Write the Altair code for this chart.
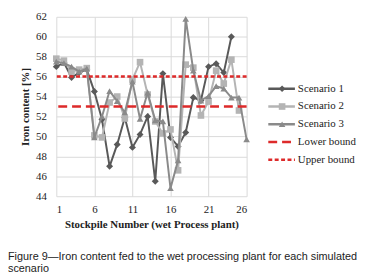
import altair as alt
import pandas as pd

# ---- data ----
stockpiles = list(range(1, 27))
scenario1 = [57.0, 57.4, 55.9, 56.4, 56.7, 54.5, 51.7, 47.0, 49.2, 51.9, 48.9, 50.2,
             52.0, 45.5, 56.3, 49.9, 49.0, 50.4, 53.9, 53.6, 57.0, 57.3, 56.4, 60.0]
scenario2 = [57.8, 57.6, 56.5, 56.7, 56.85, 50.1, 49.9, 53.4, 54.0, 51.8, 55.7, 57.45,
             54.2, 51.5, 50.3, 50.7, 46.6, 57.2, 56.9, 52.1, 53.5, 56.6, 55.3, 57.7, 52.6]
scenario3 = [57.5, 57.35, 57.0, 56.5, 56.8, 49.9, 52.0, 54.55, 53.55, 52.4, 55.5, 51.75,
             54.4, 51.6, 51.5, 44.8, 47.6, 61.8, 56.6, 53.6, 54.05, 55.05, 54.8, 53.9, 53.9, 49.7]
lower_bound = 53
upper_bound = 56
x_ticks = [1, 6, 11, 16, 21, 26]
y_ticks = [44, 46, 48, 50, 52, 54, 56, 58, 60, 62]
legend_names = ["Scenario 1", "Scenario 2", "Scenario 3", "Lower bound", "Upper bound"]
caption = ["Figure 9\u2014Iron content fed to the wet processing plant for each simulated",
           "scenario"]

# ---- styles ----
c1, c2, c3 = "#595959", "#b4b4b4", "#8a8a8a"
red = "#dd2a2a"
serif = "'Liberation Serif', 'Times New Roman', serif"
sans = "'Liberation Sans', Arial, sans-serif"
grid_col = "#d9d9d9"

x_scale = alt.Scale(domain=[1, 26], nice=False, zero=False)
y_scale = alt.Scale(domain=[44, 62], nice=False, zero=False)

x_axis = alt.Axis(values=x_ticks, title="Stockpile Number  (wet Process plant)",
                  grid=True, gridColor=grid_col, domain=False, ticks=False,
                  tickSize=0, labelPadding=8, titlePadding=4,
                  labelFont=serif, labelFontSize=11, labelColor="#222",
                  titleFont=serif, titleFontSize=11, titleFontWeight="bold",
                  titleColor="#222")
y_axis = alt.Axis(values=y_ticks, title="Iron content [%]", grid=True,
                  gridColor=grid_col, domain=False, ticks=False, tickSize=0,
                  labelPadding=10, titlePadding=5,
                  labelFont=serif, labelFontSize=11, labelColor="#222",
                  titleFont=serif, titleFontSize=11, titleFontWeight="bold",
                  titleColor="#222")
x_enc = alt.X("stockpile:Q", scale=x_scale, axis=x_axis)


def series_layer(vals, color, shape, size, with_axis):
    df = pd.DataFrame({"stockpile": stockpiles[:len(vals)], "iron": vals})
    return alt.Chart(df).mark_line(
        color=color, strokeWidth=2,
        point=alt.OverlayMarkDef(shape=shape, filled=True, size=size, color=color, opacity=1),
    ).encode(x=x_enc,
             y=alt.Y("iron:Q", scale=y_scale, axis=y_axis if with_axis else None))


s1 = series_layer(scenario1, c1, "diamond", 50, True)
s2 = series_layer(scenario2, c2, "square", 45, False)
s3 = series_layer(scenario3, c3, "triangle-up", 45, False)

bounds_df = pd.DataFrame({"name": ["Lower bound", "Upper bound"],
                          "value": [lower_bound, upper_bound]})
lower = alt.Chart(bounds_df[bounds_df.name == "Lower bound"]).mark_rule(
    color=red, strokeWidth=2.5, strokeDash=[9, 5]).encode(
    y=alt.Y("value:Q", scale=y_scale, axis=None))
upper = alt.Chart(bounds_df[bounds_df.name == "Upper bound"]).mark_rule(
    color=red, strokeWidth=2.5, strokeDash=[4, 2.5]).encode(
    y=alt.Y("value:Q", scale=y_scale, axis=None))

# ---- manual legend ----
leg_df = pd.DataFrame({"name": legend_names, "idx": list(range(len(legend_names)))})
leg_y = alt.Y("idx:Q", scale=alt.Scale(domain=[0, 4], range=[73, 145]), axis=None)
leg_color = alt.Color("name:N", scale=alt.Scale(domain=legend_names,
                                                range=[c1, c2, c3, red, red]), legend=None)
leg_dash = alt.StrokeDash("name:N", scale=alt.Scale(domain=legend_names,
                                                    range=[[1, 0], [1, 0], [1, 0], [9, 5], [4, 2.5]]),
                          legend=None)
leg_lines = alt.Chart(leg_df).mark_rule(strokeWidth=2.5).encode(
    x=alt.value(215), x2=alt.value(242), y=leg_y, color=leg_color, strokeDash=leg_dash)
leg_pts = alt.Chart(leg_df[leg_df.idx < 3]).mark_point(filled=True, size=45, opacity=1).encode(
    x=alt.value(229), y=leg_y, color=leg_color,
    shape=alt.Shape("name:N", scale=alt.Scale(domain=legend_names[:3],
                                              range=["diamond", "square", "triangle-up"]),
                    legend=None))
leg_text = alt.Chart(leg_df).mark_text(align="left", baseline="middle", font=serif,
                                       fontSize=11, color="#222").encode(
    x=alt.value(245), y=leg_y, text="name:N")

chart = alt.layer(s1, s2, s3, lower, upper, leg_lines, leg_pts, leg_text).resolve_scale(
    y="independent"
).properties(
    width=193, height=182,
    autosize=alt.AutoSizeParams(type="none"),
    padding={"left": 49, "top": 7, "right": 114, "bottom": 80},
    title=alt.TitleParams(text=caption, orient="bottom", anchor="start", frame="group",
                          dx=-49, offset=22, font=sans, fontSize=11,
                          fontWeight="normal", color="#222", lineHeight=12),
).configure_view(stroke=None)

chart.save("out.html", embed_options={"renderer": "svg", "actions": False})
